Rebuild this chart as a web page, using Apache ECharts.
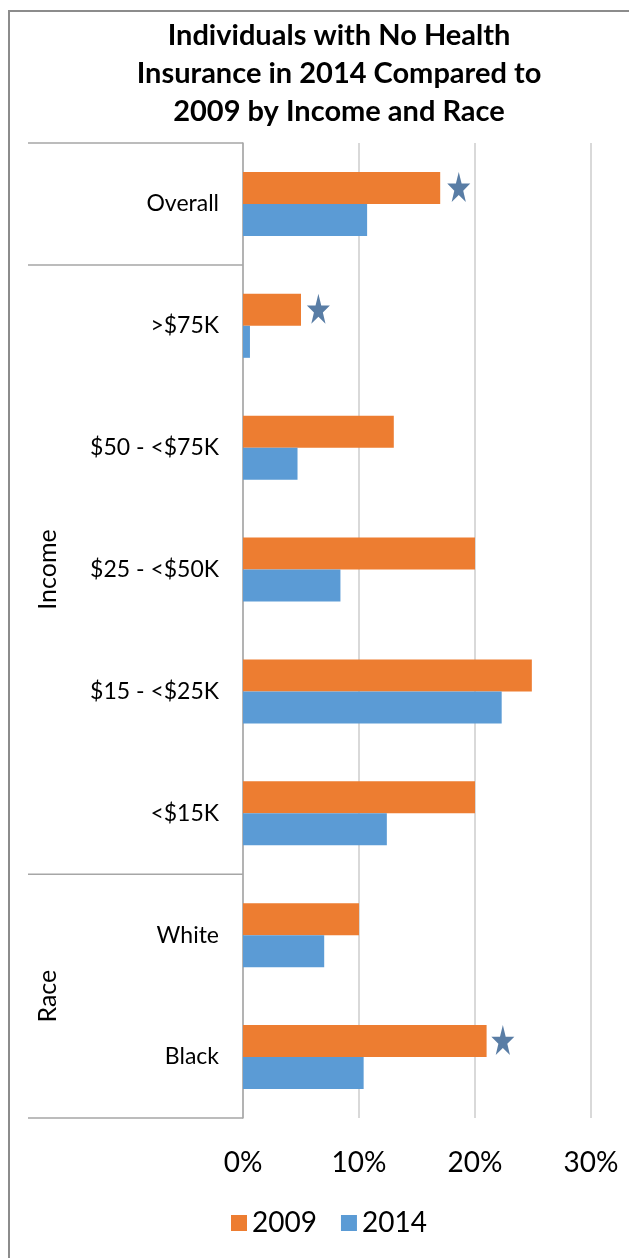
<!DOCTYPE html>
<html>
<head>
<meta charset="utf-8">
<script src="https://cdn.jsdelivr.net/npm/echarts@6/dist/echarts.min.js"></script>
<style>
  html, body { margin: 0; padding: 0; background: #fff; }
  #chart { width: 629px; height: 1258px; }
</style>
</head>
<body>
<div id="chart"></div>
<script>
var titleLines = ['Individuals with No Health', 'Insurance in 2014 Compared to', '2009 by Income and Race'];
var categories = ['Overall', '>$75K', '$50 - <$75K', '$25 - <$50K', '$15 - <$25K', '<$15K', 'White', 'Black'];
var values2009 = [17.0, 5.0, 13.0, 20.0, 24.9, 20.0, 10.0, 21.0];
var values2014 = [10.7, 0.6, 4.7, 8.4, 22.3, 12.4, 7.0, 10.4];
// stars mark significant change, drawn just past the 2009 bar
var starCategories = ['Overall', '>$75K', 'Black'];
var starValues = [18.6, 6.5, 22.4];
var groupNames = ['', 'Income', 'Race'];
var groupFirst = ['Overall', '>$75K', 'White'];
var groupLast = ['Overall', '<$15K', 'Black'];

var FONT = 'Lato, "Open Sans", sans-serif';
var chart = echarts.init(document.getElementById('chart'));

var starPath = 'path://M50,0 L61.8,35.1 L97.6,35.1 L68.5,56.7 L79.4,90.5 L50,69.5 L20.6,90.5 L31.5,56.7 L2.4,35.1 L38.2,35.1 Z';

var option = {
  backgroundColor: '#ffffff',
  color: ['#ED7D31', '#5B9BD5'],
  animation: false,
  textStyle: { fontFamily: FONT },
  grid: { left: 243, right: 38, top: 143, bottom: 140, containLabel: false },
  legend: {
    data: ['2009', '2014'],
    left: 226,
    top: 1204,
    icon: 'rect',
    itemWidth: 16,
    itemHeight: 16,
    itemGap: 24,
    textStyle: { fontSize: 28, color: '#000', fontFamily: FONT }
  },
  xAxis: {
    type: 'value',
    min: 0,
    max: 30,
    interval: 10,
    axisLine: { show: false },
    axisTick: { show: false },
    splitLine: { lineStyle: { color: '#d9d9d9', width: 2 } },
    axisLabel: { formatter: '{value}%', fontSize: 28, color: '#000', margin: 31, fontFamily: FONT }
  },
  yAxis: {
    type: 'category',
    data: categories,
    inverse: true,
    axisLine: { lineStyle: { color: '#a6a6a6', width: 1.5 } },
    axisTick: { show: false },
    axisLabel: { fontSize: 23, color: '#000', margin: 24, fontFamily: FONT }
  },
  series: [
    { name: '2009', type: 'bar', data: values2009, barWidth: 32, barGap: '0%' },
    { name: '2014', type: 'bar', data: values2014, barWidth: 32, barGap: '0%' },
    {
      name: 'star', type: 'scatter',
      data: starCategories.map(function (c, i) { return [starValues[i], c]; }),
      symbol: starPath,
      symbolSize: [23, 30],
      symbolOffset: [0, -17],
      itemStyle: { color: '#2F5C8F' },
      z: 5
    }
  ]
};
chart.setOption(option);

// group dividers and rotated group names, placed from the category axis
var c0 = chart.convertToPixel({ yAxisIndex: 0 }, categories[0]);
var c1 = chart.convertToPixel({ yAxisIndex: 0 }, categories[1]);
var band = c1 - c0;
var axisX = chart.convertToPixel({ xAxisIndex: 0 }, 0);
var graphics = [
  { type: 'rect', shape: { x: 9, y: 11, width: 700, height: 1400 }, style: { fill: 'none', stroke: '#8c8c8c', lineWidth: 2 }, silent: true }
];
titleLines.forEach(function (t, i) {
  graphics.push({
    type: 'text', x: 339, y: 36 + i * 38,
    style: { text: t, font: 'bold 29px ' + FONT, fill: '#000', textAlign: 'center', textVerticalAlign: 'middle' }
  });
});
var topY = chart.convertToPixel({ yAxisIndex: 0 }, groupFirst[0]) - band / 2;
graphics.push({ type: 'line', shape: { x1: 28, y1: topY, x2: axisX, y2: topY }, style: { stroke: '#a6a6a6', lineWidth: 1.5 } });
groupNames.forEach(function (g, i) {
  var a = chart.convertToPixel({ yAxisIndex: 0 }, groupFirst[i]) - band / 2;
  var b = chart.convertToPixel({ yAxisIndex: 0 }, groupLast[i]) + band / 2;
  graphics.push({ type: 'line', shape: { x1: 28, y1: b, x2: axisX, y2: b }, style: { stroke: '#a6a6a6', lineWidth: 1.5 } });
  if (g) {
    graphics.push({
      type: 'text', x: 48, y: (a + b) / 2, rotation: Math.PI / 2,
      style: { text: g, font: '25px ' + FONT, fill: '#000', textAlign: 'center', textVerticalAlign: 'middle' }
    });
  }
});
chart.setOption({ graphic: graphics });
</script>
</body>
</html>
